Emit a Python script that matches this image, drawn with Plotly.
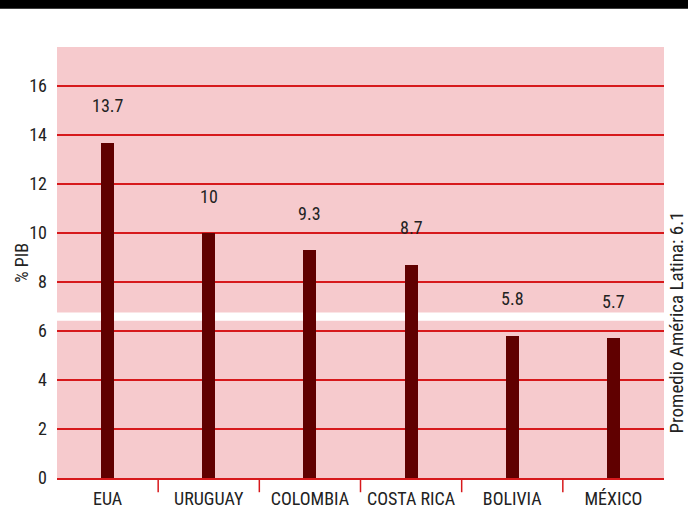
import plotly.graph_objects as go

categories = ["EUA", "URUGUAY", "COLOMBIA", "COSTA RICA", "BOLIVIA", "MÉXICO"]
values = [13.7, 10, 9.3, 8.7, 5.8, 5.7]
y_ticks = [0, 2, 4, 6, 8, 10, 12, 14, 16]
y_title = "% PIB"
latam_label = "Promedio América Latina: 6.1"
band = [6.42, 6.76]

FONT = "Liberation Sans Narrow, Roboto Condensed, Roboto, Arial, sans-serif"
RED = "#d7191c"
PINK = "#f6cacd"
TXT = "#222222"

fig = go.Figure()
fig.add_trace(go.Bar(
    x=categories, y=values, width=0.13,
    marker=dict(color="#600000", line=dict(width=0)),
    hoverinfo="x+y",
))

for c, v in zip(categories, values):
    fig.add_annotation(x=c, y=v, text=str(v), showarrow=False,
                       yshift=37, font=dict(size=18, color=TXT, family=FONT))

# category boundary ticks
for i in range(1, len(categories)):
    fig.add_shape(type="line", xref="x", yref="paper", x0=i - 0.5, x1=i - 0.5,
                  y0=0, y1=-0.033, line=dict(color=RED, width=1.5))

# white band
fig.add_shape(type="rect", xref="paper", yref="y", x0=0, x1=1, y0=band[0], y1=band[1],
              fillcolor="white", line=dict(width=0), layer="below")

# black band on top
fig.add_shape(type="rect", xref="paper", yref="paper", x0=-0.2, x1=1.2, y0=1.089, y1=1.3,
              fillcolor="black", line=dict(width=0))

fig.add_annotation(xref="paper", yref="paper", x=1.021, y=0.36, text=latam_label,
                   textangle=-90, showarrow=False, xanchor="center", yanchor="middle",
                   font=dict(size=19, color=TXT, family=FONT))

fig.add_annotation(xref="paper", yref="paper", x=-0.058, y=0.499, text=y_title,
                   textangle=-90, showarrow=False, xanchor="center", yanchor="middle",
                   font=dict(size=18, color=TXT, family=FONT))

fig.update_layout(
    width=688, height=508,
    margin=dict(l=57, r=24, t=47, b=30, autoexpand=False),
    paper_bgcolor="white", plot_bgcolor=PINK,
    showlegend=False,
    font=dict(family=FONT, size=18, color=TXT),
    bargap=0,
)
fig.update_xaxes(showgrid=False, showline=True, linecolor=RED, linewidth=1.5,
                 ticks="", ticklabelstandoff=4, automargin=False,
                 tickfont=dict(size=18, family=FONT, color=TXT))
fig.update_yaxes(range=[0, 17.6], tickvals=y_ticks, showgrid=True, gridcolor=RED,
                 gridwidth=1.5, zeroline=False, showline=False,
                 ticks="", ticklabelstandoff=9, automargin=False,
                 tickfont=dict(size=18, family=FONT, color=TXT))

fig.write_html("out.html", config={"displayModeBar": False},
               post_script="document.body.style.margin='0';document.body.style.overflow='hidden';")
